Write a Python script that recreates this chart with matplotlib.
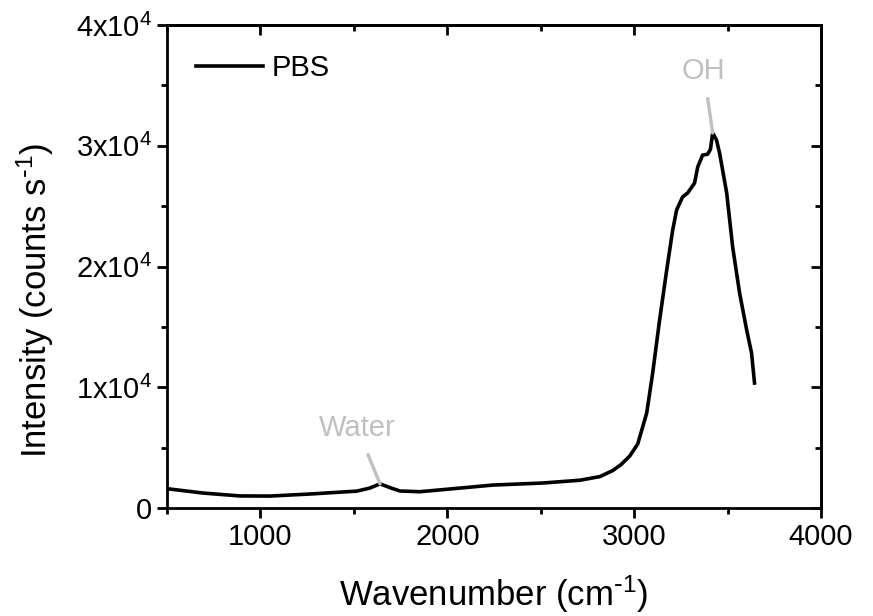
import matplotlib
matplotlib.use("Agg")
import matplotlib.pyplot as plt
from matplotlib.ticker import MultipleLocator, FuncFormatter
import numpy as np

plt.rcParams['font.family'] = ['Liberation Sans', 'DejaVu Sans']
plt.rcParams['mathtext.default'] = 'regular'

# PBS Raman spectrum
wavenumber = [500, 693, 890, 1050, 1265, 1516, 1585, 1640, 1700, 1746, 1853, 2067,
              2243, 2511, 2709, 2816, 2885, 2930, 2976, 3019, 3067, 3099, 3136,
              3174, 3206, 3227, 3259, 3286, 3323, 3340, 3366, 3393, 3408, 3420,
              3440, 3457, 3495, 3527, 3564, 3602, 3628, 3644]
intensity = [1600, 1240, 1000, 990, 1160, 1400, 1650, 2000, 1650, 1410, 1350, 1650,
             1900, 2070, 2300, 2600, 3100, 3600, 4300, 5300, 7870, 11180, 15570,
             19710, 23020, 24680, 25760, 26090, 26910, 28240, 29230, 29300, 29700, 31060,
             30500, 29400, 26090, 21610, 17810, 14740, 12840, 10350]

series_label = "PBS"
# label, peak position, label position (baseline)
annotations = [("Water", 1640, 2000, 1516, 6000),
               ("OH", 3420, 31060, 3372, 35550)]

fig, ax = plt.subplots(figsize=(8.73, 6.16), dpi=100)
fig.subplots_adjust(left=0.1913, right=0.9405, bottom=0.1753, top=0.9594)

ax.plot(wavenumber, intensity, color='black', lw=2.6, label=series_label)

for text, x, y, tx, ty in annotations:
    ax.annotate(text, xy=(x, y), xytext=(tx, ty), color='#c0c0c0', fontsize=21,
                ha='center', va='baseline',
                arrowprops=dict(arrowstyle='-', color='#c0c0c0', lw=2.4,
                                shrinkA=8, shrinkB=0))

ax.set_xlim(500, 4000)
ax.set_ylim(0, 40000)
ax.xaxis.set_major_locator(MultipleLocator(1000))
ax.xaxis.set_minor_locator(MultipleLocator(500))
ax.yaxis.set_major_locator(MultipleLocator(10000))
ax.yaxis.set_minor_locator(MultipleLocator(5000))


def sci(v, pos):
    if v == 0:
        return "0"
    return r"$%dx10^{4}$" % round(v / 10000)


ax.yaxis.set_major_formatter(FuncFormatter(sci))

for s in ax.spines.values():
    s.set_linewidth(2)
ax.tick_params(which='major', direction='out', length=7, width=2, labelsize=21, pad=4)
ax.tick_params(which='minor', direction='out', length=4, width=2)

top = ax.secondary_xaxis('top')
top.xaxis.set_major_locator(MultipleLocator(1000))
top.xaxis.set_minor_locator(MultipleLocator(500))
top.tick_params(which='major', direction='in', length=7, width=2, labeltop=False)
top.tick_params(which='minor', direction='in', length=4, width=2)
top.spines['top'].set_linewidth(2)

right = ax.secondary_yaxis('right')
right.yaxis.set_major_locator(MultipleLocator(10000))
right.yaxis.set_minor_locator(MultipleLocator(5000))
right.tick_params(which='major', direction='in', length=7, width=2, labelright=False)
right.tick_params(which='minor', direction='in', length=4, width=2)
right.spines['right'].set_linewidth(2)

ax.set_xlabel(r"Wavenumber (cm$^{\text{-}1}$)", fontsize=25, labelpad=16)
ax.set_ylabel(r"Intensity (counts s$^{\text{-}1}$)", fontsize=25)
ax.yaxis.set_label_coords(-0.17, 0.43)

ax.legend(loc='upper left', frameon=False, fontsize=21, handlelength=2.3,
          handletextpad=0.3, borderaxespad=0.6)

fig.savefig("out.png", dpi=100)
